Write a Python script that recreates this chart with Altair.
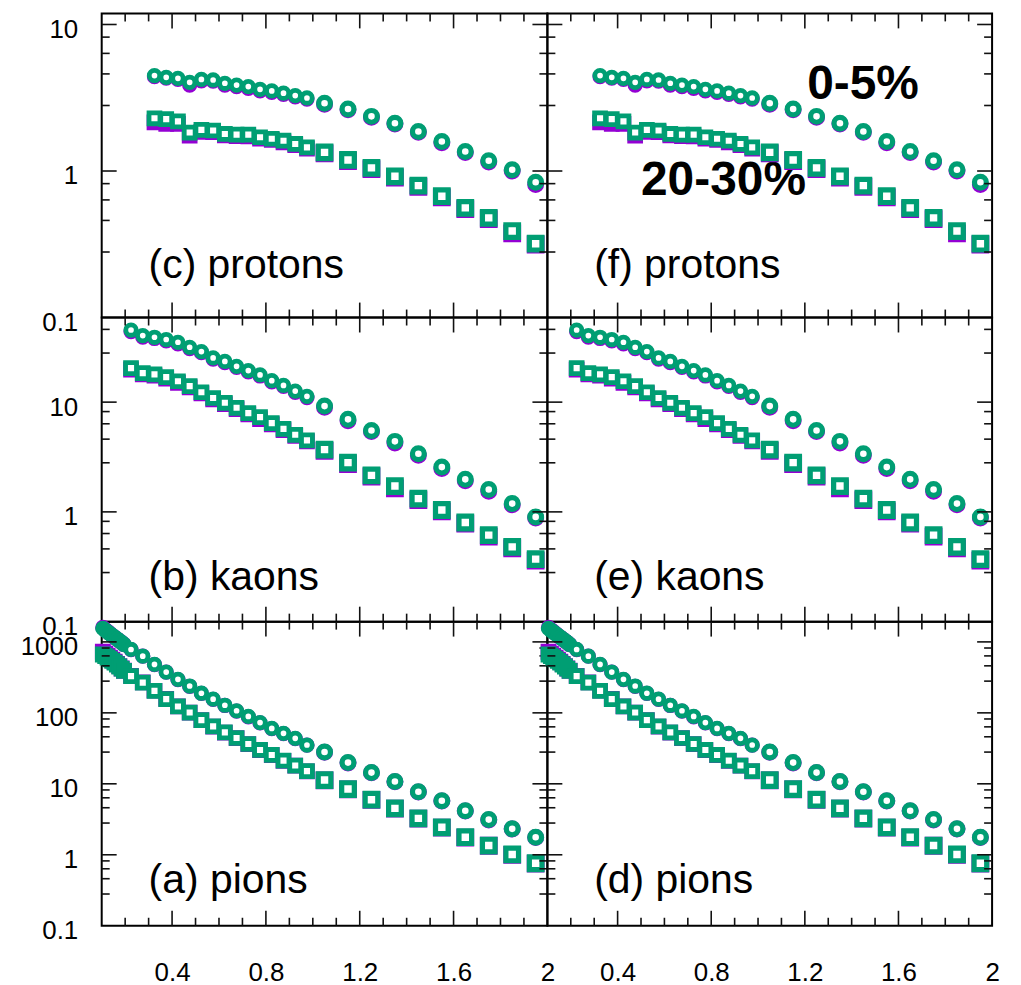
import altair as alt
import pandas as pd

GREEN = "#009E73"
PURPLE = "#9400D3"
FONT = "Liberation Sans"

# ---------------- x positions (GeV/c) ----------------
X_CLUSTER = [0.105, 0.115, 0.125, 0.135, 0.145, 0.155, 0.165, 0.175, 0.185, 0.195]
X_FINE_P = [0.325, 0.375, 0.425, 0.475, 0.525, 0.575, 0.625, 0.675, 0.725, 0.775,
            0.825, 0.875, 0.925, 0.975]
X_FINE = [0.225, 0.275, 0.325, 0.375, 0.425, 0.475, 0.525, 0.575, 0.625, 0.675,
          0.725, 0.775, 0.825, 0.875, 0.925, 0.975]
X_COARSE = [1.05, 1.15, 1.25, 1.35, 1.45, 1.55, 1.65, 1.75, 1.85, 1.95]

# ---------------- protons ----------------
P_C_GREEN = [4.48, 4.36, 4.29, 4.03, 4.22, 4.18, 3.97, 3.86, 3.77, 3.61, 3.52, 3.40, 3.27, 3.15,
             2.90, 2.65, 2.36, 2.12, 1.86, 1.59, 1.36, 1.175, 1.02, 0.838]
P_C_PURPLE = [4.40, 4.30, 4.22, 3.86, 4.12, 4.10, 3.85, 3.76, 3.66, 3.52, 3.44, 3.33, 3.21, 3.10,
              2.86, 2.62, 2.33, 2.09, 1.84, 1.56, 1.34, 1.15, 1.00, 0.81]
P_S_GREEN = [2.29, 2.26, 2.18, 1.83, 1.91, 1.89, 1.79, 1.77, 1.77, 1.70, 1.66, 1.61, 1.53, 1.45,
             1.34, 1.19, 1.05, 0.92, 0.795, 0.673, 0.56, 0.479, 0.389, 0.319]
P_S_PURPLE = [2.15, 2.10, 2.10, 1.74, 1.85, 1.84, 1.75, 1.73, 1.72, 1.66, 1.63, 1.57, 1.50, 1.42,
              1.32, 1.17, 1.03, 0.90, 0.78, 0.66, 0.55, 0.47, 0.375, 0.315]

# ---------------- kaons ----------------
K_C_GREEN = [45.4, 40.4, 39.0, 37.2, 35.1, 31.6, 28.9, 25.3, 23.5, 21.2, 19.4, 17.7, 15.7, 14.2,
             12.6, 11.3, 9.2, 6.97, 5.52, 4.39, 3.39, 2.56, 1.98, 1.60, 1.19, 0.90]
K_C_PURPLE = [44.0, 39.2, 38.0, 36.2, 34.0, 30.8, 28.2, 24.7, 22.9, 20.7, 18.9, 17.3, 15.3, 13.9,
              12.3, 11.0, 9.0, 6.75, 5.40, 4.25, 3.28, 2.48, 1.92, 1.54, 1.16, 0.88]
K_S_GREEN = [20.4, 18.4, 17.9, 16.9, 15.5, 14.0, 12.3, 10.9, 9.86, 8.88, 7.94, 7.31, 6.44, 5.71,
             5.04, 4.48, 3.69, 2.81, 2.15, 1.72, 1.32, 1.04, 0.80, 0.614, 0.48, 0.371]
K_S_PURPLE = [19.8, 17.9, 17.4, 16.4, 15.0, 13.6, 12.0, 10.6, 9.6, 8.65, 7.75, 7.0, 6.28, 5.57,
              4.92, 4.38, 3.60, 2.72, 2.10, 1.64, 1.28, 1.01, 0.78, 0.595, 0.465, 0.36]

# ---------------- pions ----------------
PI_C_GREEN = [1550, 1460, 1380, 1300, 1230, 1160, 1100, 1040, 980, 920,
              782, 630, 482, 376, 297, 239, 189, 156, 128, 107, 89, 73, 60.4, 51.4, 43.7, 35.2,
              28.1, 19.9, 14.4, 10.8, 7.72, 5.78, 4.18, 3.13, 2.32, 1.77]
PI_C_PURPLE = [1600, 1490, 1400, 1310, 1235, 1165, 1100, 1040, 980, 920,
               780, 628, 480, 374, 295, 237, 188, 155, 127, 106, 88, 72, 60.0, 51.0, 43.3, 35.0,
               27.8, 19.7, 14.3, 10.7, 7.65, 5.72, 4.15, 3.10, 2.30, 1.75]
PI_S_GREEN = [665, 630, 600, 570, 540, 510, 480, 450, 420, 390,
              330, 267, 204, 156, 123, 101, 79, 64.4, 53.1, 44.2, 36.4, 30.0, 25.5, 21.2, 18.1, 15.1,
              11.3, 8.43, 5.97, 4.51, 3.26, 2.44, 1.77, 1.35, 1.01, 0.76]
PI_S_PURPLE = [725, 680, 640, 600, 560, 525, 490, 455, 422, 392,
               332, 268, 205, 157, 123, 101, 79, 64.0, 52.8, 44.0, 36.2, 29.8, 25.3, 21.0, 18.0, 15.0,
               11.2, 8.35, 5.92, 4.47, 3.23, 2.42, 1.75, 1.34, 1.00, 0.75]

# ---------------- axes / ticks ----------------
X_DOMAIN = [0.1, 2.0]
X_LABELS = [0.4, 0.8, 1.2, 1.6, 2.0]
X_MAJOR = [0.4, 0.8, 1.2, 1.6]
X_MINOR = [0.2, 0.3, 0.5, 0.6, 0.7, 0.9, 1.0, 1.1, 1.3, 1.4, 1.5, 1.7, 1.8, 1.9]

P_DOMAIN = [0.1, 11.9]
K_DOMAIN = [0.1, 59]
PI_DOMAIN = [0.1, 1930]
P_LABELS = [0.1, 1, 10]
K_LABELS = [0.1, 1, 10]
PI_LABELS = [0.1, 1, 10, 100, 1000]
P_MAJOR = [1, 10]
K_MAJOR = [1, 10]
PI_MAJOR = [1, 10, 100, 1000]
P_MINOR = [0.28, 0.46, 0.635, 0.82, 2.8, 4.6, 6.35, 8.2]
K_MINOR = [0.28, 0.46, 0.635, 0.82, 2.8, 4.6, 6.35, 8.2, 28, 46]
PI_MINOR = [0.28, 0.46, 0.635, 0.82, 2.8, 4.6, 6.35, 8.2, 28, 46, 63.5, 82,
            280, 460, 635, 820]

# panel labels (x, y in data coords)
LABEL_X = 0.3
P_LABEL_Y = 0.187
K_LABEL_Y = 0.195
PI_LABEL_Y = 0.286
CENT_TEXT = ["0-5%", "20-30%"]
CENT_X = [1.21, 0.50]
CENT_Y = [3.1, 0.687]

W_LEFT, W_RIGHT, H = 447, 446, 305
MAJ_LEN, MIN_LEN = 15, 8
LABEL_SIZE = 26

# marker style per (shape, group): size (Vega symbol area), stroke width, fill
MARKER_STYLE = {
    ("circle", "cluster"): (110, 5.0, "transparent"),
    ("circle", "fine"): (110, 4.8, "white"),
    ("circle", "coarse"): (140, 5.2, "white"),
    ("square", "cluster"): (120, 5.0, "transparent"),
    ("square", "fine"): (120, 4.8, "white"),
    ("square", "coarse"): (160, 5.2, "white"),
}


def panel(spec, width, show_x, show_y, label, bold=False):
    xs, groups, cg, cp, sg, sp, ydom, ylabels, ymaj, ymin, laby = spec
    xscale = alt.Scale(domain=X_DOMAIN, nice=False, zero=False)
    yscale = alt.Scale(type="log", domain=ydom, nice=False)
    xaxis = alt.Axis(values=X_LABELS, format="~g", ticks=False, domain=False, grid=False,
                     labelFontSize=LABEL_SIZE, labelFont=FONT, labelColor="black", labelPadding=34,
                     labelFlush=False, labelOverlap=False, title=None) if show_x else None
    yaxis = alt.Axis(values=ylabels, format="~g", ticks=False, domain=False, grid=False,
                     labelFontSize=LABEL_SIZE, labelFont=FONT, labelColor="black", labelPadding=24,
                     labelOffset=5, labelOverlap=False, labelFlush=False, title=None) if show_y else None

    X = alt.X("x:Q", scale=xscale, axis=xaxis)
    Y = alt.Y("y:Q", scale=yscale, axis=yaxis)

    def pts(vals, shape, color):
        out = []
        for grp in ["cluster", "fine", "coarse"]:
            sel = [(x, v) for x, g, v in zip(xs, groups, vals) if g == grp]
            if not sel:
                continue
            df = pd.DataFrame({"x": [s[0] for s in sel], "y": [s[1] for s in sel]})
            size, sw, fill = MARKER_STYLE[(shape, grp)]
            out.append(alt.Chart(df).mark_point(
                shape=shape, size=size, strokeWidth=sw, stroke=color, fill=fill,
                opacity=1, strokeOpacity=1, fillOpacity=1,
            ).encode(x=X, y=Y))
        return out

    def xt(vals, length, side):
        df = pd.DataFrame({"x": vals})
        if side == "bottom":
            yy, yy2 = alt.value(H), alt.value(H - length)
        else:
            yy, yy2 = alt.value(0), alt.value(length)
        return alt.Chart(df).mark_rule(color="#111", strokeWidth=1.6).encode(x=X, y=yy, y2=yy2)

    def yt(vals, length, side):
        df = pd.DataFrame({"y": vals})
        if side == "left":
            xx, xx2 = alt.value(0), alt.value(length)
        else:
            xx, xx2 = alt.value(width), alt.value(width - length)
        return alt.Chart(df).mark_rule(color="#111", strokeWidth=1.6).encode(y=Y, x=xx, x2=xx2)

    layers = []
    if bold:
        cdf = pd.DataFrame({"x": CENT_X, "y": CENT_Y, "t": CENT_TEXT})
        layers.append(alt.Chart(cdf).mark_text(
            align="left", baseline="alphabetic", font=FONT, fontSize=48, fontWeight="bold",
            color="black").encode(x=X, y=Y, text="t:N"))
    layers += pts(cp, "circle", PURPLE) + pts(sp, "square", PURPLE)
    layers += pts(cg, "circle", GREEN) + pts(sg, "square", GREEN)
    layers += [xt(X_MAJOR, MAJ_LEN, "bottom"), xt(X_MINOR, MIN_LEN, "bottom"),
               xt(X_MAJOR, MAJ_LEN, "top"), xt(X_MINOR, MIN_LEN, "top"),
               yt(ymaj, MAJ_LEN, "left"), yt(ymin, MIN_LEN, "left"),
               yt(ymaj, MAJ_LEN, "right"), yt(ymin, MIN_LEN, "right")]
    ldf = pd.DataFrame({"x": [LABEL_X], "y": [laby], "t": [label]})
    layers.append(alt.Chart(ldf).mark_text(
        align="left", baseline="alphabetic", font=FONT, fontSize=41, color="black"
    ).encode(x=X, y=Y, text="t:N"))
    return alt.layer(*layers).properties(width=width, height=H)


G_P = ["fine"] * len(X_FINE_P) + ["coarse"] * len(X_COARSE)
G_K = ["fine"] * len(X_FINE) + ["coarse"] * len(X_COARSE)
G_PI = ["cluster"] * len(X_CLUSTER) + ["fine"] * len(X_FINE) + ["coarse"] * len(X_COARSE)

SPEC_P = (X_FINE_P + X_COARSE, G_P, P_C_GREEN, P_C_PURPLE, P_S_GREEN, P_S_PURPLE,
          P_DOMAIN, P_LABELS, P_MAJOR, P_MINOR, P_LABEL_Y)
SPEC_K = (X_FINE + X_COARSE, G_K, K_C_GREEN, K_C_PURPLE, K_S_GREEN, K_S_PURPLE,
          K_DOMAIN, K_LABELS, K_MAJOR, K_MINOR, K_LABEL_Y)
SPEC_PI = (X_CLUSTER + X_FINE + X_COARSE, G_PI, PI_C_GREEN, PI_C_PURPLE, PI_S_GREEN, PI_S_PURPLE,
           PI_DOMAIN, PI_LABELS, PI_MAJOR, PI_MINOR, PI_LABEL_Y)

panels = [
    panel(SPEC_P, W_LEFT, False, True, "(c) protons"),
    panel(SPEC_P, W_RIGHT, False, False, "(f) protons", bold=True),
    panel(SPEC_K, W_LEFT, False, True, "(b) kaons"),
    panel(SPEC_K, W_RIGHT, False, False, "(e) kaons"),
    panel(SPEC_PI, W_LEFT, True, True, "(a) pions"),
    panel(SPEC_PI, W_RIGHT, True, False, "(d) pions"),
]

chart = alt.concat(
    *panels, columns=2, spacing=0, bounds="flush"
).resolve_scale(x="independent", y="independent").configure_view(
    stroke="black", strokeWidth=2
).configure_axis(
    labelFontSize=LABEL_SIZE, labelFont=FONT, labelColor="black"
).properties(
    padding={"left": 19, "top": 10, "right": 20, "bottom": 5},
    background="white",
)

chart.save("out.html", embed_options={"renderer": "svg", "actions": False})
